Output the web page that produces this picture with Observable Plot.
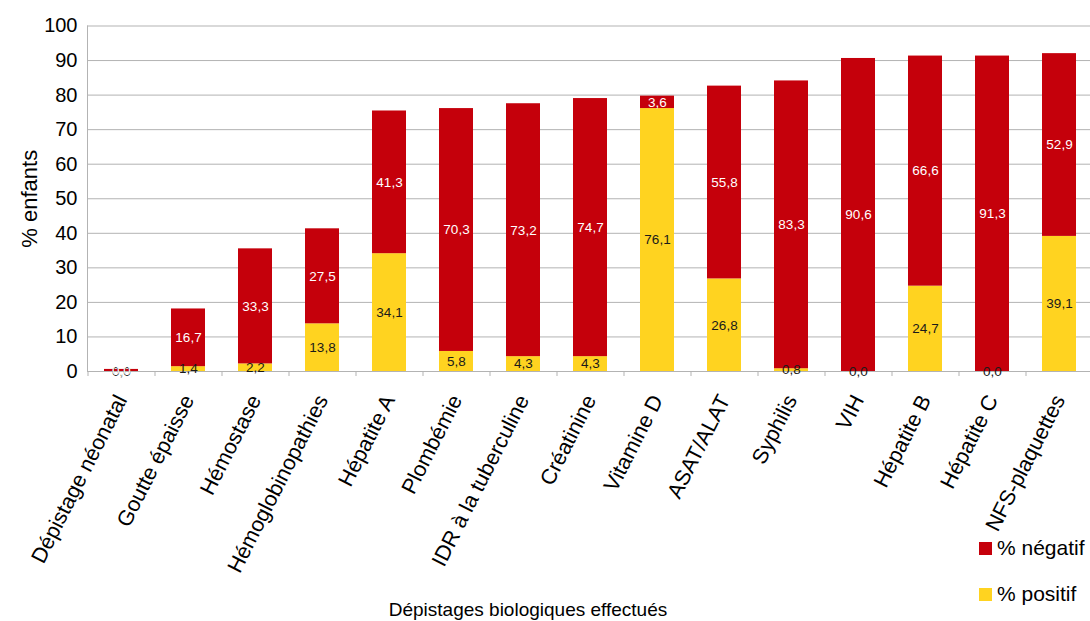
<!DOCTYPE html>
<html>
<head>
<meta charset="utf-8">
<script src="https://cdn.jsdelivr.net/npm/d3@7"></script>
<script src="https://cdn.jsdelivr.net/npm/@observablehq/plot@0.6"></script>
<style>
  html, body { margin: 0; padding: 0; background: #fff; overflow: hidden; }
  #wrap { position: relative; width: 1090px; height: 621px; font-family: "Liberation Sans", Arial, sans-serif; }
  #xtitle { position: absolute; left: 0; width: 1056px; top: 599px; text-align: center; font-size: 19px; color: #000; line-height: 22px; }
  .leg { position: absolute; left: 979px; font-size: 21px; color: #000; display: flex; align-items: center; }
  .sw { width: 13px; height: 13px; margin-right: 5px; }
</style>
</head>
<body>
<div id="wrap"></div>
<script>
const categories = ["Dépistage néonatal", "Goutte épaisse", "Hémostase", "Hémoglobinopathies", "Hépatite A", "Plombémie", "IDR à la tuberculine", "Créatinine", "Vitamine D", "ASAT/ALAT", "Syphilis", "VIH", "Hépatite B", "Hépatite C", "NFS-plaquettes"];
const positif = [0.0, 1.4, 2.2, 13.8, 34.1, 5.8, 4.3, 4.3, 76.1, 26.8, 0.8, 0.0, 24.7, 0.0, 39.1];
const negatif = [0.6, 16.7, 33.3, 27.5, 41.3, 70.3, 73.2, 74.7, 3.6, 55.8, 83.3, 90.6, 66.6, 91.3, 52.9];
const negLabels = ["0,0", "16,7", "33,3", "27,5", "41,3", "70,3", "73,2", "74,7", "3,6", "55,8", "83,3", "90,6", "66,6", "91,3", "52,9"];
const seriesNames = ["% positif", "% négatif"];
const yTicks = [0, 10, 20, 30, 40, 50, 60, 70, 80, 90, 100];
const colors = ["#ffd320", "#c5000b"];

const data = [];
categories.forEach((c, i) => {
  data.push({cat: c, series: seriesNames[0], value: positif[i], label: positif[i].toFixed(1).replace(".", ",")});
  data.push({cat: c, series: seriesNames[1], value: negatif[i], label: negLabels[i]});
});

const chart = Plot.plot({
  width: 1090,
  height: 621,
  marginLeft: 87,
  marginRight: -3,
  marginTop: 25.5,
  marginBottom: 250,
  style: {fontFamily: "'Liberation Sans', Arial, sans-serif", background: "#fff", overflow: "visible"},
  x: {domain: categories, paddingInner: 0.5, paddingOuter: 0.25, label: null},
  y: {domain: [0, 100], ticks: yTicks, label: null},
  color: {domain: seriesNames, range: colors},
  marks: [
    Plot.gridY(yTicks, {stroke: "#b3b3b3", strokeOpacity: 1, strokeWidth: 1}),
    Plot.frame({anchor: "left", stroke: "#b3b3b3"}),
    Plot.ruleX(categories, {x: d => d, y1: 0, y2: 0, dx: -33.5, insetBottom: -5, stroke: "#b3b3b3"}),
    Plot.barY(data, Plot.stackY({x: "cat", y: "value", z: "series", fill: "series", order: null})),
    Plot.ruleY([0], {stroke: "#b3b3b3"}),
    Plot.text(data, Plot.stackY({x: "cat", y: "value", z: "series", order: null, text: "label",
      fill: d => d.series === seriesNames[0] ? "#1a1a1a" : "#ffffff", fontSize: 13.5})),
    Plot.axisY(yTicks, {tickSize: 0, tickPadding: 10, fontSize: 20, label: null, fill: "#000"}),
    Plot.axisY({tickSize: 0, ticks: [], label: "% enfants", labelAnchor: "center", labelOffset: 66, labelArrow: "none", fontSize: 22, fill: "#000"}),
    Plot.axisX({tickSize: 0, tickPadding: 25, tickRotate: -63, fontSize: 21.5, label: null, fill: "#000"})
  ]
});

const wrap = document.getElementById("wrap");
wrap.appendChild(chart);

const xt = document.createElement("div");
xt.id = "xtitle";
xt.textContent = "Dépistages biologiques effectués";
wrap.appendChild(xt);

const legTops = [582, 536];
[1, 0].forEach(i => {
  const el = document.createElement("div");
  el.className = "leg";
  el.style.top = legTops[i] + "px";
  const sw = document.createElement("div");
  sw.className = "sw";
  sw.style.background = colors[i];
  el.appendChild(sw);
  const t = document.createElement("span");
  t.textContent = seriesNames[i];
  el.appendChild(t);
  wrap.appendChild(el);
});
</script>
</body>
</html>
